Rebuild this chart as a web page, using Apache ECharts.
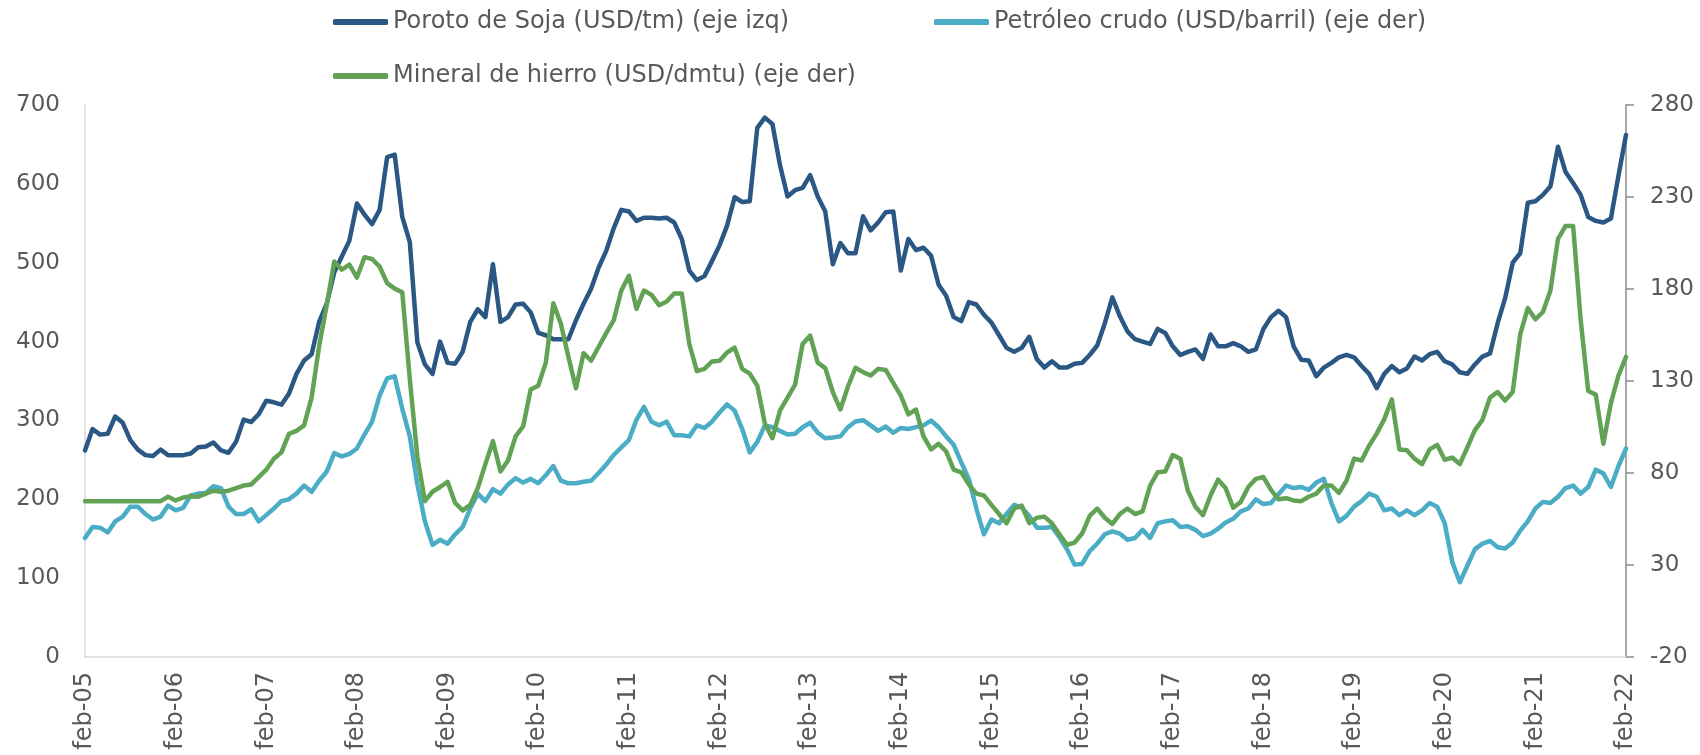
<!DOCTYPE html>
<html><head><meta charset="utf-8">
<script src="https://cdn.jsdelivr.net/npm/echarts@6/dist/echarts.min.js"></script>
<style>html,body{margin:0;padding:0;background:#fff}#c{width:1700px;height:755px}</style>
</head><body><div id="c"></div>
<script>
const monthNames = ['ene','feb','mar','abr','may','jun','jul','ago','sep','oct','nov','dic'];
const startYear = 2005, startMonth = 1, nMonths = 205;
const categories = [];
for (let k = 0; k < nMonths; k++) {
  const m = (startMonth + k) % 12;
  const y = startYear + Math.floor((startMonth + k) / 12);
  categories.push(monthNames[m] + '-' + String(y % 100).padStart(2, '0'));
}
const seriesNames = ['Poroto de Soja (USD/tm) (eje izq)', 'Petróleo crudo (USD/barril) (eje der)', 'Mineral de hierro (USD/dmtu) (eje der)'];
const leftTicks = {min: 0, max: 700, interval: 100};
const rightTicks = {min: -20, max: 280, interval: 50};

const soja = [262,289,282,283,305,297,275,263,256,255,263,256,256,256,258,266,267,272,262,259,
273,301,298,308,325,323,320,334,359,376,384,425,448,488,508,528,575,561,549,567,
634,637,558,526,399,371,359,400,373,372,387,425,441,431,498,425,431,447,448,437,
411,408,403,403,403,427,448,467,494,515,544,567,565,553,557,557,556,557,551,530,
490,478,483,502,522,547,583,577,578,671,684,676,624,584,592,595,611,584,565,498,
525,512,512,559,541,551,564,565,490,530,516,519,509,472,458,431,426,450,447,434,
424,408,392,387,392,406,378,367,375,367,367,372,373,383,395,423,456,432,413,403,
400,397,416,411,394,383,387,390,378,409,394,394,398,394,387,390,416,431,439,431,
394,377,376,356,367,373,380,383,380,369,359,341,359,369,361,366,381,376,384,387,
375,371,361,359,371,381,385,423,455,500,512,576,578,586,597,647,615,601,586,558,
553,551,556,610,662];
const petroleo = [44.7,50.7,50.3,47.7,53.7,56.3,61.7,61.7,57.7,54.7,56.3,62.3,59.7,61.1,67.8,68.8,69.2,72.8,71.8,61.7,
57.7,57.7,60.3,53.7,57.1,60.7,64.7,65.7,68.8,73.2,69.8,75.8,80.8,90.8,89,90.4,93.3,100.9,107.9,122,
131.4,132.6,114.9,99.9,73.8,53.7,41,43.7,41.6,46.7,50.7,60.7,68.8,64.7,71.2,68.8,73.8,77.2,74.8,76.8,
74.4,78.8,83.8,75.8,74.4,74.4,75.2,75.8,80,84.6,89.8,93.9,97.9,108.9,115.9,107.9,105.9,107.9,100.5,100.5,
99.9,105.9,104.5,107.9,112.9,117.3,113.9,103.9,91.2,96.9,105.9,104.9,102.9,100.9,101.3,104.9,107.3,101.9,98.9,99.3,
99.9,104.9,108,108.7,105.9,102.9,105.3,101.9,104.5,103.9,104.9,105.9,108.5,104.9,99.9,95.3,85.8,76.8,60.7,46.7,
54.7,52.7,57.7,62.7,61.1,56.7,50.3,50.3,50.7,45.1,38.6,30.2,30.6,37.6,41.6,46.7,48.3,47,43.7,44.7,
49.1,44.7,52.7,53.7,54.3,50.7,51.1,49.1,45.7,47.1,49.7,53.1,55.1,59.1,60.7,65.7,63.1,63.7,68.4,73.2,
71.8,72.4,70.8,74.8,76.8,63.7,53.7,56.7,61.7,64.7,68.8,67.1,59.7,60.7,57.1,59.7,57.1,59.7,63.7,61.7,
52.7,31.6,20.6,29.6,38.6,41.6,43.1,39.6,39,42.2,48.7,53.7,60.7,64.3,63.7,67.1,71.8,73.2,68.8,72.4,
81.8,79.8,72.4,83.8,93.3];
const hierro = [64.7,64.7,64.7,64.7,64.7,64.7,64.7,64.7,64.7,64.7,64.7,67.1,65.1,66.7,67.3,67.1,68.8,70.4,69.8,70.4,
71.8,73.2,73.8,77.8,81.8,87.8,91.2,101.3,102.9,105.9,121,149.1,171.2,194.9,190.5,193.2,186.2,197.3,196.3,192.2,
183.2,180.2,178.2,131,88.8,64.7,69.8,72.4,75.2,63.7,59.7,62.7,71.8,84.8,97.3,80.8,86.8,99.9,105.3,125.4,
127.4,140,172.2,161.1,143.1,126,145.1,141,148.6,156,163.1,179.2,187.2,169.2,179.2,176.8,171.2,173.2,177.6,177.6,
150.1,135.4,136.6,140.6,141,145.5,148.1,136.6,134,127.4,106.9,98.9,113.9,121,128,150.1,154.7,140,137,124,
114.5,127,137.2,134.8,133,136.6,136,129,122,111.9,114.5,99.9,92.8,95.9,91.8,81.8,80.4,73.8,68.8,67.8,
62.7,57.7,52.7,60.7,62.3,52.7,55.7,56.3,52.7,46.7,41,42.2,47.1,56.7,60.7,55.7,52.3,57.7,60.7,57.7,
59.1,73.2,80.4,80.8,89.8,87.8,70.4,61.7,57.1,67.8,76.4,71.8,61.1,64.3,72.4,76.8,77.8,70.8,65.7,66.3,
65.1,64.7,67.1,68.8,73.2,73.2,69.2,75.8,87.8,86.8,94.9,101.4,109.3,120,92.8,92.4,87.8,84.8,92.8,95.3,
87.2,88.4,84.8,93.9,103.3,108.9,121,124,119.4,124,155.5,169.6,163.5,167.5,179.2,207.3,214.3,214.3,163.1,124.6,
122.6,95.9,118,133,143.1];

const colors = ['#2a5783', '#4bacc6', '#62a255'];
const FONT = 'DejaVu Sans';
const txt = '#595959';

const chart = echarts.init(document.getElementById('c'), null, {renderer: 'canvas'});
const legendBase = {
  icon: 'roundRect', itemWidth: 55, itemHeight: 6,
  textStyle: {fontFamily: FONT, fontSize: 24, color: txt},
  selectedMode: false
};
chart.setOption({
  animation: false,
  color: colors,
  textStyle: {fontFamily: FONT},
  legend: [
    Object.assign({}, legendBase, {data: [seriesNames[0]], left: 328, top: 5}),
    Object.assign({}, legendBase, {data: [seriesNames[1]], left: 929, top: 5}),
    Object.assign({}, legendBase, {data: [seriesNames[2]], left: 328, top: 59})
  ],
  grid: {left: 85, right: 74, top: 105, bottom: 98, containLabel: false},
  xAxis: {
    type: 'category', data: categories, boundaryGap: false,
    axisLine: {lineStyle: {color: '#d9d9d9', width: 1.5}},
    axisTick: {show: false},
    axisLabel: {interval: 11, rotate: 90, fontSize: 24, color: txt, fontFamily: FONT, margin: 15}
  },
  yAxis: [
    {type: 'value', min: leftTicks.min, max: leftTicks.max, interval: leftTicks.interval,
     axisLine: {show: true, lineStyle: {color: '#d9d9d9', width: 1.5}},
     axisTick: {show: false}, splitLine: {show: false},
     axisLabel: {fontSize: 23, color: txt, fontFamily: FONT, margin: 25}},
    {type: 'value', min: rightTicks.min, max: rightTicks.max, interval: rightTicks.interval,
     position: 'right',
     axisLine: {show: true, lineStyle: {color: '#8c8c8c', width: 1.5}},
     axisTick: {show: true, length: 8, lineStyle: {color: '#8c8c8c', width: 1.5}}, splitLine: {show: false},
     axisLabel: {fontSize: 23, color: txt, fontFamily: FONT, margin: 24}}
  ],
  series: [
    {name: seriesNames[0], type: 'line', yAxisIndex: 0, data: soja, showSymbol: false,
     lineStyle: {width: 4.5, color: colors[0], join: 'round', cap: 'round'}},
    {name: seriesNames[1], type: 'line', yAxisIndex: 1, data: petroleo, showSymbol: false,
     lineStyle: {width: 4.5, color: colors[1], join: 'round', cap: 'round'}},
    {name: seriesNames[2], type: 'line', yAxisIndex: 1, data: hierro, showSymbol: false,
     lineStyle: {width: 4.5, color: colors[2], join: 'round', cap: 'round'}}
  ]
});
</script></body></html>
